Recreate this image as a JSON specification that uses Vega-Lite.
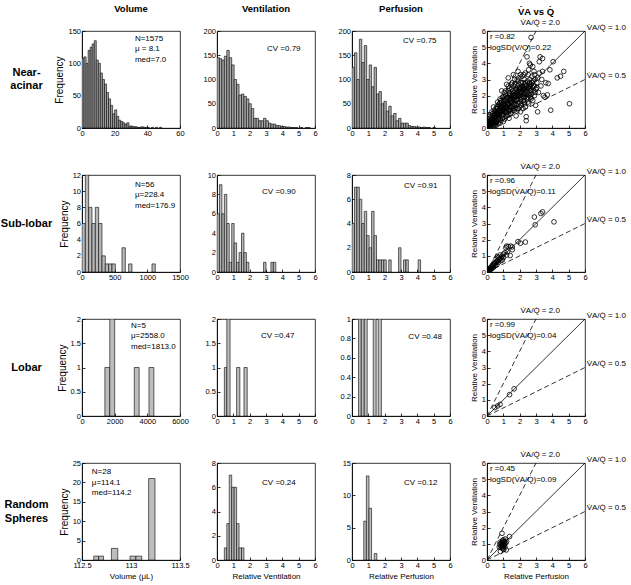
{
"$schema": "https://vega.github.io/schema/vega-lite/v6.json",
"padding": {"left": 0, "top": 3, "right": 4, "bottom": 2},
"config": {
  "font": "Liberation Sans",
  "numberFormat": "~f",
  "view": {"stroke": "black", "strokeWidth": 0.8},
  "axis": {"grid": false, "labelOverlap": false, "tickCount": 20, "domainColor": "black", "domainWidth": 0.8, "tickColor": "black", "tickSize": -3, "tickWidth": 0.8, "labelPadding": 4.5, "labelColor": "black", "labelFontSize": 7.5, "labelFlush": false, "titleColor": "black", "titleFontSize": 8, "titleFontWeight": "normal", "titlePadding": 3},
  "title": {"fontSize": 9.5, "fontWeight": "bold", "offset": 14, "color": "black", "frame": "group"},
  "text": {"color": "black"}
},
"datasets": {
  "v1": [{"a":0,"b":1.25,"n":108},{"a":1.25,"b":2.5,"n":110},{"a":2.5,"b":3.75,"n":100},{"a":3.75,"b":5,"n":120},{"a":5,"b":6.25,"n":125},{"a":6.25,"b":7.5,"n":130},{"a":7.5,"b":8.75,"n":135},{"a":8.75,"b":10,"n":105},{"a":10,"b":11.25,"n":100},{"a":11.25,"b":12.5,"n":85},{"a":12.5,"b":13.75,"n":75},{"a":13.75,"b":15,"n":68},{"a":15,"b":16.25,"n":55},{"a":16.25,"b":17.5,"n":45},{"a":17.5,"b":18.75,"n":35},{"a":18.75,"b":20,"n":22},{"a":20,"b":21.25,"n":28},{"a":21.25,"b":22.5,"n":18},{"a":22.5,"b":23.75,"n":12},{"a":23.75,"b":25,"n":10},{"a":25,"b":26.25,"n":8},{"a":26.25,"b":27.5,"n":6},{"a":27.5,"b":28.75,"n":8},{"a":28.75,"b":30,"n":3},{"a":30,"b":31.25,"n":3},{"a":31.25,"b":32.5,"n":2},{"a":32.5,"b":33.75,"n":2},{"a":33.75,"b":35,"n":1},{"a":35,"b":36.25,"n":1},{"a":36.25,"b":37.5,"n":2},{"a":37.5,"b":38.75,"n":1},{"a":38.75,"b":40,"n":1},{"a":40,"b":41.25,"n":1},{"a":42.5,"b":43.75,"n":1},{"a":45,"b":46.25,"n":1},{"a":47.5,"b":48.75,"n":1}],
  "e1": [{"a":0,"b":0.15,"n":145},{"a":0.15,"b":0.3,"n":143},{"a":0.3,"b":0.45,"n":140},{"a":0.45,"b":0.6,"n":148},{"a":0.6,"b":0.75,"n":160},{"a":0.75,"b":0.9,"n":145},{"a":0.9,"b":1.05,"n":130},{"a":1.05,"b":1.2,"n":100},{"a":1.2,"b":1.35,"n":90},{"a":1.35,"b":1.5,"n":68},{"a":1.5,"b":1.65,"n":70},{"a":1.65,"b":1.8,"n":65},{"a":1.8,"b":1.95,"n":60},{"a":1.95,"b":2.1,"n":50},{"a":2.1,"b":2.25,"n":40},{"a":2.25,"b":2.4,"n":20},{"a":2.4,"b":2.55,"n":20},{"a":2.55,"b":2.7,"n":15},{"a":2.7,"b":2.85,"n":15},{"a":2.85,"b":3.0,"n":20},{"a":3.0,"b":3.15,"n":15},{"a":3.15,"b":3.3,"n":10},{"a":3.3,"b":3.45,"n":8},{"a":3.45,"b":3.6,"n":8},{"a":3.6,"b":3.75,"n":5},{"a":3.75,"b":3.9,"n":5},{"a":3.9,"b":4.05,"n":3},{"a":4.05,"b":4.2,"n":3},{"a":4.2,"b":4.35,"n":2},{"a":4.35,"b":4.5,"n":2},{"a":4.5,"b":4.65,"n":1},{"a":4.65,"b":4.8,"n":1},{"a":4.8,"b":4.95,"n":1},{"a":5.1,"b":5.25,"n":1},{"a":5.4,"b":5.55,"n":1},{"a":5.55,"b":5.7,"n":1}],
  "p1": [{"a":0,"b":0.15,"n":125},{"a":0.15,"b":0.3,"n":155},{"a":0.3,"b":0.45,"n":100},{"a":0.45,"b":0.6,"n":183},{"a":0.6,"b":0.75,"n":135},{"a":0.75,"b":0.9,"n":170},{"a":0.9,"b":1.05,"n":100},{"a":1.05,"b":1.2,"n":130},{"a":1.2,"b":1.35,"n":85},{"a":1.35,"b":1.5,"n":125},{"a":1.5,"b":1.65,"n":70},{"a":1.65,"b":1.8,"n":75},{"a":1.8,"b":1.95,"n":50},{"a":1.95,"b":2.1,"n":55},{"a":2.1,"b":2.25,"n":35},{"a":2.25,"b":2.4,"n":45},{"a":2.4,"b":2.55,"n":25},{"a":2.55,"b":2.7,"n":30},{"a":2.7,"b":2.85,"n":15},{"a":2.85,"b":3.0,"n":20},{"a":3.0,"b":3.15,"n":10},{"a":3.15,"b":3.3,"n":10},{"a":3.3,"b":3.45,"n":10},{"a":3.45,"b":3.6,"n":5},{"a":3.6,"b":3.75,"n":3},{"a":3.75,"b":3.9,"n":3},{"a":3.9,"b":4.05,"n":2},{"a":4.05,"b":4.2,"n":2},{"a":4.2,"b":4.35,"n":1},{"a":4.35,"b":4.5,"n":2},{"a":4.5,"b":4.65,"n":1},{"a":4.65,"b":4.8,"n":1},{"a":4.95,"b":5.1,"n":1}],
  "v2": [{"a":0,"b":51,"n":6},{"a":51,"b":102,"n":12},{"a":102,"b":153,"n":8},{"a":153,"b":204,"n":6},{"a":204,"b":255,"n":8},{"a":255,"b":306,"n":6},{"a":306,"b":357,"n":2},{"a":357,"b":408,"n":1},{"a":408,"b":459,"n":1},{"a":459,"b":510,"n":1},{"a":612,"b":663,"n":3},{"a":714,"b":765,"n":1},{"a":1071,"b":1122,"n":1}],
  "e2": [{"a":0,"b":0.15,"n":6},{"a":0.15,"b":0.3,"n":9},{"a":0.3,"b":0.45,"n":6},{"a":0.45,"b":0.6,"n":8},{"a":0.6,"b":0.75,"n":5},{"a":0.75,"b":0.9,"n":1},{"a":0.9,"b":1.05,"n":5},{"a":1.05,"b":1.2,"n":3},{"a":1.2,"b":1.35,"n":1},{"a":1.35,"b":1.5,"n":2},{"a":1.5,"b":1.65,"n":4},{"a":1.65,"b":1.8,"n":2},{"a":1.8,"b":1.95,"n":1},{"a":2.85,"b":3.0,"n":1},{"a":3.3,"b":3.45,"n":1},{"a":3.45,"b":3.6,"n":1}],
  "p2": [{"a":0,"b":0.15,"n":4},{"a":0.15,"b":0.3,"n":7},{"a":0.3,"b":0.45,"n":7},{"a":0.45,"b":0.6,"n":6},{"a":0.6,"b":0.75,"n":4},{"a":0.75,"b":0.9,"n":5},{"a":0.9,"b":1.05,"n":3},{"a":1.05,"b":1.2,"n":2},{"a":1.2,"b":1.35,"n":5},{"a":1.35,"b":1.5,"n":3},{"a":1.5,"b":1.65,"n":1},{"a":1.65,"b":1.8,"n":1},{"a":1.8,"b":1.95,"n":1},{"a":1.95,"b":2.1,"n":1},{"a":2.25,"b":2.4,"n":1},{"a":2.85,"b":3.0,"n":2},{"a":3.15,"b":3.3,"n":1},{"a":3.3,"b":3.45,"n":1},{"a":4.05,"b":4.2,"n":1}],
  "v3": [{"a":1400,"b":1700,"n":1},{"a":1700,"b":2000,"n":2},{"a":3200,"b":3500,"n":1},{"a":4100,"b":4400,"n":1}],
  "e3": [{"a":0.45,"b":0.6,"n":1},{"a":0.6,"b":0.8,"n":2},{"a":1.2,"b":1.4,"n":1},{"a":1.65,"b":1.85,"n":1}],
  "p3": [{"a":0.4,"b":0.57,"n":1},{"a":0.57,"b":0.75,"n":1},{"a":0.75,"b":0.93,"n":1},{"a":1.3,"b":1.48,"n":1},{"a":1.6,"b":1.8,"n":1}],
  "v4": [{"a":112.62,"b":112.67,"n":1},{"a":112.67,"b":112.72,"n":1},{"a":112.8,"b":112.865,"n":3},{"a":112.99,"b":113.05,"n":1},{"a":113.05,"b":113.11,"n":1},{"a":113.18,"b":113.245,"n":21}],
  "e4": [{"a":0.45,"b":0.6,"n":1},{"a":0.6,"b":0.75,"n":3},{"a":0.75,"b":0.9,"n":7},{"a":0.9,"b":1.05,"n":6},{"a":1.05,"b":1.2,"n":6},{"a":1.2,"b":1.35,"n":3},{"a":1.35,"b":1.5,"n":1},{"a":1.5,"b":1.65,"n":1}],
  "p4": [{"a":0.72,"b":0.88,"n":6},{"a":0.88,"b":1.04,"n":13},{"a":1.04,"b":1.2,"n":8},{"a":1.36,"b":1.52,"n":1}],
  "ln": [{"k":"1.0","x":0,"y":0},{"k":"1.0","x":6,"y":6},{"k":"2.0","x":0,"y":0},{"k":"2.0","x":3,"y":6},{"k":"0.5","x":0,"y":0},{"k":"0.5","x":6,"y":3}],
  "ll": [{"t":"V\u0307A/Q\u0307 = 2.0","x":2.05,"y":6.5},{"t":"V\u0307A/Q\u0307 = 1.0","x":6.1,"y":6.2},{"t":"V\u0307A/Q\u0307 = 0.5","x":6.1,"y":3.22}],
  "s1": [{"x":0.05,"y":0.1},{"x":0.08,"y":0.2},{"x":0.1,"y":0.05},{"x":0.12,"y":0.3},{"x":0.15,"y":0.15},{"x":0.18,"y":0.4},{"x":0.2,"y":0.1},{"x":0.22,"y":0.25},{"x":0.25,"y":0.5},{"x":0.28,"y":0.2},{"x":0.3,"y":0.35},{"x":0.1,"y":0.4},{"x":0.05,"y":0.3},{"x":0.2,"y":0.6},{"x":0.3,"y":0.1},{"x":0.15,"y":0.02},{"x":0.25,"y":0.05},
  {"x":0.35,"y":0.6},{"x":0.38,"y":0.3},{"x":0.4,"y":0.8},{"x":0.42,"y":0.45},{"x":0.45,"y":0.2},{"x":0.48,"y":0.7},{"x":0.5,"y":0.55},{"x":0.52,"y":1.0},{"x":0.55,"y":0.35},{"x":0.58,"y":0.85},{"x":0.6,"y":0.6},{"x":0.35,"y":0.9},{"x":0.45,"y":1.1},{"x":0.5,"y":0.15},{"x":0.6,"y":0.4},{"x":0.4,"y":1.3},{"x":0.55,"y":1.2},
  {"x":0.62,"y":0.9},{"x":0.65,"y":1.2},{"x":0.68,"y":0.5},{"x":0.7,"y":0.75},{"x":0.72,"y":1.05},{"x":0.75,"y":1.4},{"x":0.78,"y":0.65},{"x":0.8,"y":0.95},{"x":0.82,"y":1.2},{"x":0.85,"y":0.45},{"x":0.88,"y":1.6},{"x":0.9,"y":0.8},{"x":0.65,"y":1.6},{"x":0.7,"y":0.3},{"x":0.75,"y":1.0},{"x":0.8,"y":1.8},{"x":0.85,"y":1.3},{"x":0.9,"y":1.1},{"x":0.68,"y":0.85},{"x":0.78,"y":1.55},
  {"x":0.92,"y":1.4},{"x":0.95,"y":0.6},{"x":0.98,"y":1.0},{"x":1.0,"y":1.25},{"x":1.02,"y":1.7},{"x":1.05,"y":0.85},{"x":1.08,"y":1.5},{"x":1.1,"y":1.1},{"x":1.12,"y":2.0},{"x":1.15,"y":0.7},{"x":1.18,"y":1.3},{"x":1.2,"y":1.6},{"x":0.95,"y":1.9},{"x":1.0,"y":0.4},{"x":1.05,"y":2.2},{"x":1.1,"y":1.35},{"x":1.15,"y":1.8},{"x":1.2,"y":0.95},{"x":0.98,"y":1.15},{"x":1.08,"y":0.55},{"x":1.12,"y":1.0},
  {"x":1.22,"y":1.2},{"x":1.25,"y":1.9},{"x":1.28,"y":0.8},{"x":1.3,"y":1.45},{"x":1.32,"y":2.3},{"x":1.35,"y":1.05},{"x":1.38,"y":1.7},{"x":1.4,"y":1.3},{"x":1.42,"y":2.0},{"x":1.45,"y":0.9},{"x":1.48,"y":1.55},{"x":1.5,"y":2.4},{"x":1.25,"y":1.5},{"x":1.3,"y":2.6},{"x":1.35,"y":0.6},{"x":1.4,"y":1.85},{"x":1.45,"y":1.15},{"x":1.5,"y":1.75},{"x":1.28,"y":1.1},{"x":1.38,"y":2.15},{"x":1.48,"y":1.3},{"x":1.3,"y":3.1},
  {"x":1.52,"y":1.0},{"x":1.55,"y":1.6},{"x":1.58,"y":2.1},{"x":1.6,"y":1.35},{"x":1.62,"y":2.6},{"x":1.65,"y":1.85},{"x":1.68,"y":1.1},{"x":1.7,"y":2.3},{"x":1.72,"y":1.5},{"x":1.75,"y":2.0},{"x":1.78,"y":0.75},{"x":1.8,"y":1.7},{"x":1.55,"y":2.8},{"x":1.6,"y":1.9},{"x":1.65,"y":1.45},{"x":1.7,"y":2.7},{"x":1.75,"y":1.25},{"x":1.8,"y":2.4},{"x":1.58,"y":1.2},{"x":1.68,"y":2.05},{"x":1.78,"y":1.95},{"x":1.62,"y":3.3},
  {"x":1.82,"y":1.4},{"x":1.85,"y":2.2},{"x":1.88,"y":1.8},{"x":1.9,"y":2.9},{"x":1.92,"y":1.2},{"x":1.95,"y":2.0},{"x":1.98,"y":2.5},{"x":2.0,"y":1.6},{"x":2.02,"y":2.2},{"x":2.05,"y":1.0},{"x":2.08,"y":2.8},{"x":2.1,"y":1.9},{"x":1.85,"y":2.6},{"x":1.9,"y":1.55},{"x":1.95,"y":3.1},{"x":2.0,"y":2.35},{"x":2.05,"y":1.75},{"x":2.1,"y":2.5},{"x":1.88,"y":2.05},{"x":2.0,"y":1.3},{"x":2.08,"y":2.1},
  {"x":2.12,"y":1.5},{"x":2.15,"y":2.3},{"x":2.18,"y":2.0},{"x":2.2,"y":2.8},{"x":2.22,"y":1.7},{"x":2.25,"y":2.45},{"x":2.28,"y":3.0},{"x":2.3,"y":1.9},{"x":2.32,"y":2.2},{"x":2.35,"y":1.3},{"x":2.38,"y":2.6},{"x":2.4,"y":2.05},{"x":2.15,"y":3.2},{"x":2.2,"y":1.2},{"x":2.25,"y":2.1},{"x":2.3,"y":2.7},{"x":2.35,"y":3.4},{"x":2.4,"y":0.7},{"x":2.18,"y":2.55},{"x":2.28,"y":1.6},
  {"x":2.42,"y":2.4},{"x":2.45,"y":1.8},{"x":2.48,"y":2.9},{"x":2.5,"y":2.2},{"x":2.52,"y":3.3},{"x":2.55,"y":1.5},{"x":2.58,"y":2.6},{"x":2.6,"y":2.0},{"x":2.62,"y":3.0},{"x":2.65,"y":2.3},{"x":2.68,"y":1.9},{"x":2.7,"y":2.7},{"x":2.45,"y":4.4},{"x":2.55,"y":3.6},{"x":2.65,"y":3.9},{"x":2.7,"y":5.6},{"x":2.5,"y":1.6},{"x":2.6,"y":2.45},
  {"x":2.72,"y":2.1},{"x":2.75,"y":3.2},{"x":2.78,"y":2.5},{"x":2.8,"y":1.7},{"x":2.82,"y":2.9},{"x":2.85,"y":2.3},{"x":2.88,"y":3.5},{"x":2.9,"y":2.0},{"x":2.92,"y":2.6},{"x":2.95,"y":3.0},{"x":2.98,"y":1.4},{"x":3.0,"y":2.4},{"x":2.8,"y":3.8},{"x":2.9,"y":3.3},
  {"x":3.05,"y":2.8},{"x":3.1,"y":3.1},{"x":3.15,"y":2.2},{"x":3.2,"y":4.1},{"x":3.25,"y":4.4},{"x":3.3,"y":2.6},{"x":3.2,"y":3.4},{"x":3.1,"y":1.0},{"x":3.35,"y":3.0},{"x":3.45,"y":2.0},{"x":3.4,"y":3.5},
  {"x":3.6,"y":2.8},{"x":3.55,"y":1.9},{"x":3.7,"y":2.05},{"x":3.75,"y":2.75},{"x":3.85,"y":3.6},{"x":4.05,"y":4.1},{"x":4.3,"y":3.1},{"x":4.5,"y":3.2},{"x":4.7,"y":3.5},{"x":5.05,"y":1.5},{"x":3.9,"y":1.1},{"x":3.4,"y":4.3},{"x":2.6,"y":4.0},{"x":1.9,"y":3.5},{"x":1.2,"y":2.7},{"x":0.9,"y":2.3},{"x":2.4,"y":0.45},
  {"x":0.1,"y":0.2},{"x":0.15,"y":0.3},{"x":0.2,"y":0.35},{"x":0.25,"y":0.3},{"x":0.3,"y":0.5},{"x":0.35,"y":0.4},{"x":0.4,"y":0.55},{"x":0.45,"y":0.65},{"x":0.5,"y":0.8},{"x":0.55,"y":0.7},{"x":0.6,"y":0.95},{"x":0.65,"y":0.8},{"x":0.7,"y":1.1},{"x":0.75,"y":0.85},{"x":0.8,"y":1.3},{"x":0.85,"y":1.0},{"x":0.9,"y":1.35},{"x":0.95,"y":1.1},{"x":1.0,"y":1.5},{"x":1.05,"y":1.2},{"x":1.1,"y":1.65},{"x":1.15,"y":1.3},{"x":1.2,"y":1.85},{"x":1.25,"y":1.35},{"x":1.3,"y":1.9},{"x":1.35,"y":1.5},{"x":1.4,"y":2.1},{"x":1.45,"y":1.65},{"x":1.5,"y":1.95},{"x":1.55,"y":1.8},{"x":1.6,"y":2.3},{"x":1.65,"y":2.0},{"x":1.7,"y":1.7},{"x":1.75,"y":2.4},{"x":1.8,"y":2.1},{"x":1.85,"y":1.75},{"x":1.9,"y":2.3},{"x":1.95,"y":2.7},{"x":2.0,"y":2.0},{"x":2.05,"y":2.45},{"x":2.1,"y":2.2},{"x":2.15,"y":2.6},{"x":2.2,"y":2.4},{"x":2.25,"y":1.9},{"x":2.3,"y":2.45},{"x":2.35,"y":2.8},{"x":2.4,"y":2.3},{"x":2.45,"y":2.65},{"x":2.5,"y":2.5},{"x":2.55,"y":2.1},{"x":2.6,"y":2.8},{"x":2.65,"y":2.6},{"x":2.7,"y":2.3},{"x":2.75,"y":2.8},{"x":2.85,"y":2.6},{"x":2.95,"y":2.2},{"x":3.05,"y":2.5},{"x":0.3,"y":0.7},{"x":0.45,"y":0.9},{"x":0.6,"y":1.3},{"x":0.7,"y":1.45},{"x":0.85,"y":1.7},{"x":1.0,"y":1.95},{"x":1.15,"y":2.3},{"x":1.35,"y":2.45},{"x":1.5,"y":2.7},{"x":1.7,"y":3.0},{"x":1.85,"y":3.0},{"x":2.05,"y":3.3},{"x":2.25,"y":3.3},{"x":0.5,"y":0.3},{"x":0.7,"y":0.55},{"x":0.95,"y":0.8},{"x":1.2,"y":0.75},{"x":1.4,"y":1.1},{"x":1.6,"y":1.1},{"x":1.85,"y":1.2},{"x":2.1,"y":1.4},{"x":2.3,"y":1.5},{"x":2.5,"y":1.9},{"x":2.7,"y":1.8},{"x":0.05,"y":0.5},{"x":0.1,"y":0.7},{"x":0.2,"y":0.8},{"x":0.3,"y":1.0},{"x":0.4,"y":0.1},{"x":0.6,"y":0.2},{"x":0.8,"y":0.3}],
  "s2": [{"x":4.1,"y":3.1},{"x":3.4,"y":3.72},{"x":3.3,"y":3.62},{"x":2.9,"y":3.4},{"x":2.95,"y":2.92},{"x":2.35,"y":1.85},{"x":1.9,"y":1.88},{"x":2.05,"y":1.78},{"x":1.55,"y":1.55},{"x":1.45,"y":1.6},{"x":1.3,"y":1.58},{"x":1.2,"y":1.6},{"x":1.15,"y":1.5},{"x":1.55,"y":1.38},{"x":1.42,"y":1.02},{"x":1.25,"y":1.25},{"x":1.1,"y":1.2},{"x":1.0,"y":1.1},{"x":1.2,"y":1.05},{"x":0.9,"y":0.95},{"x":0.85,"y":0.85},{"x":1.0,"y":0.9},{"x":0.8,"y":1.05},{"x":0.75,"y":0.8},{"x":0.7,"y":0.9},{"x":0.65,"y":0.7},{"x":0.6,"y":0.65},{"x":0.55,"y":0.6},{"x":0.5,"y":0.55},{"x":0.45,"y":0.5},{"x":0.6,"y":0.45},{"x":0.4,"y":0.4},{"x":0.35,"y":0.45},{"x":0.3,"y":0.35},{"x":0.3,"y":0.25},{"x":0.25,"y":0.3},{"x":0.2,"y":0.25},{"x":0.2,"y":0.15},{"x":0.15,"y":0.2},{"x":0.1,"y":0.15},{"x":0.1,"y":0.08},{"x":0.05,"y":0.1},{"x":0.05,"y":0.05},{"x":0.08,"y":0.03},{"x":0.12,"y":0.12},{"x":0.18,"y":0.1},{"x":0.25,"y":0.2},{"x":0.4,"y":0.3},{"x":0.5,"y":0.4},{"x":0.7,"y":0.6},{"x":0.85,"y":0.7},{"x":0.95,"y":0.75},{"x":0.65,"y":0.95},{"x":0.55,"y":0.8},{"x":0.02,"y":0.02},{"x":0.35,"y":0.25}],
  "s3": [{"x":0.48,"y":0.52},{"x":0.65,"y":0.62},{"x":0.8,"y":0.72},{"x":1.38,"y":1.32},{"x":1.66,"y":1.68}],
  "s4": [{"x":0.75,"y":0.8},{"x":0.78,"y":0.95},{"x":0.8,"y":1.1},{"x":0.82,"y":0.52},{"x":0.85,"y":0.85},{"x":0.87,"y":1.0},{"x":0.9,"y":0.8},{"x":0.9,"y":1.1},{"x":0.92,"y":1.65},{"x":0.93,"y":0.95},{"x":0.95,"y":1.2},{"x":0.95,"y":0.7},{"x":0.97,"y":0.85},{"x":0.98,"y":1.05},{"x":1.0,"y":0.95},{"x":1.0,"y":1.25},{"x":1.01,"y":0.8},{"x":1.02,"y":1.1},{"x":1.03,"y":0.65},{"x":1.05,"y":0.9},{"x":1.07,"y":1.15},{"x":1.08,"y":1.0},{"x":1.1,"y":0.8},{"x":1.12,"y":1.3},{"x":1.15,"y":1.05},{"x":1.18,"y":0.62},{"x":1.2,"y":1.15},{"x":1.38,"y":1.45}]
},
"columns": 5,
"spacing": {"row": 47, "column": 37},
"bounds": "flush",
"concat": [
  {"width": 37, "height": 97, "view": {"stroke": null}, "data": {"values": [{"t": "Near-\nacinar"}]}, "mark": {"type": "text", "fontSize": 11, "fontWeight": "bold", "lineBreak": "\n", "lineHeight": 13, "align": "center", "baseline": "middle", "dy": -6.5}, "encoding": {"text": {"field": "t"}}},
  {"width": 98, "height": 97, "title": "Volume", "layer": [
    {"data": {"name": "v1"}, "mark": {"type": "bar", "fill": "#a0a0a0", "stroke": "black", "strokeWidth": 0.6, "clip": true},
     "encoding": {"x": {"field": "a", "type": "quantitative", "scale": {"domain": [0, 60], "nice": false}, "axis": {"values": [0, 20, 40, 60], "title": null, "tickCount": 20}}, "x2": {"field": "b"}, "y": {"field": "n", "type": "quantitative", "scale": {"domain": [0, 150], "nice": false}, "axis": {"values": [0, 50, 100, 150], "title": "Frequency", "titleFontSize": 10, "tickCount": 20}}, "y2": {"datum": 0}}},
    {"data": {"values": [{"x": 32.4, "y": 144, "t": "N=1575\nμ = 8.1\nmed=7.0"}]}, "mark": {"type": "text", "align": "left", "baseline": "top", "fontSize": 8, "lineBreak": "\n", "lineHeight": 10.5},
     "encoding": {"x": {"field": "x", "type": "quantitative", "scale": {"domain": [0, 60], "nice": false}}, "y": {"field": "y", "type": "quantitative", "scale": {"domain": [0, 150], "nice": false}}, "text": {"field": "t"}}}
  ]},
  {"width": 98, "height": 97, "title": "Ventilation", "layer": [
    {"data": {"name": "e1"}, "mark": {"type": "bar", "fill": "#a8a8a8", "stroke": "black", "strokeWidth": 0.6, "clip": true},
     "encoding": {"x": {"field": "a", "type": "quantitative", "scale": {"domain": [0, 6], "nice": false}, "axis": {"values": [0, 1, 2, 3, 4, 5, 6], "title": null, "tickCount": 20}}, "x2": {"field": "b"}, "y": {"field": "n", "type": "quantitative", "scale": {"domain": [0, 200], "nice": false}, "axis": {"values": [0, 50, 100, 150, 200], "title": null, "tickCount": 20}}, "y2": {"datum": 0}}},
    {"data": {"values": [{"x": 3.06, "y": 170.7, "t": "CV =0.79"}]}, "mark": {"type": "text", "align": "left", "baseline": "top", "fontSize": 8},
     "encoding": {"x": {"field": "x", "type": "quantitative", "scale": {"domain": [0, 6], "nice": false}}, "y": {"field": "y", "type": "quantitative", "scale": {"domain": [0, 200], "nice": false}}, "text": {"field": "t"}}}
  ]},
  {"width": 98, "height": 97, "title": "Perfusion", "layer": [
    {"data": {"name": "p1"}, "mark": {"type": "bar", "fill": "#a8a8a8", "stroke": "black", "strokeWidth": 0.6, "clip": true},
     "encoding": {"x": {"field": "a", "type": "quantitative", "scale": {"domain": [0, 6], "nice": false}, "axis": {"values": [0, 1, 2, 3, 4, 5, 6], "title": null, "tickCount": 20}}, "x2": {"field": "b"}, "y": {"field": "n", "type": "quantitative", "scale": {"domain": [0, 200], "nice": false}, "axis": {"values": [0, 50, 100, 150, 200], "title": null, "tickCount": 20}}, "y2": {"datum": 0}}},
    {"data": {"values": [{"x": 3.12, "y": 188, "t": "CV =0.75"}]}, "mark": {"type": "text", "align": "left", "baseline": "top", "fontSize": 8},
     "encoding": {"x": {"field": "x", "type": "quantitative", "scale": {"domain": [0, 6], "nice": false}}, "y": {"field": "y", "type": "quantitative", "scale": {"domain": [0, 200], "nice": false}}, "text": {"field": "t"}}}
  ]},
  {"width": 98, "height": 97, "layer": [
    {"data": {"name": "ln"}, "transform": [{"filter": "datum.k === '1.0'"}], "mark": {"type": "line", "color": "black", "strokeWidth": 0.8, "clip": true},
     "encoding": {"x": {"field": "x", "type": "quantitative", "scale": {"domain": [0, 6], "nice": false}, "axis": {"values": [0, 1, 2, 3, 4, 5, 6], "title": null, "tickCount": 20}}, "y": {"field": "y", "type": "quantitative", "scale": {"domain": [0, 6], "nice": false}, "axis": {"values": [0, 1, 2, 3, 4, 5, 6], "title": "Relative Ventilation", "tickCount": 20}}}},
    {"data": {"name": "ln"}, "transform": [{"filter": "datum.k !== '1.0'"}], "mark": {"type": "line", "color": "black", "strokeWidth": 0.8, "strokeDash": [5, 3], "clip": true},
     "encoding": {"x": {"field": "x", "type": "quantitative", "scale": {"domain": [0, 6], "nice": false}}, "y": {"field": "y", "type": "quantitative", "scale": {"domain": [0, 6], "nice": false}}, "detail": {"field": "k"}}},
    {"data": {"name": "s1"}, "mark": {"type": "point", "shape": "circle", "filled": false, "color": "black", "size": 22, "strokeWidth": 0.8, "opacity": 1, "clip": true},
     "encoding": {"x": {"field": "x", "type": "quantitative", "scale": {"domain": [0, 6], "nice": false}}, "y": {"field": "y", "type": "quantitative", "scale": {"domain": [0, 6], "nice": false}}}},
    {"data": {"values": [{"x": 0.18, "y": 5.9, "t": "r =0.82\nlogSD(V/Q)=0.22"}]}, "mark": {"type": "text", "align": "left", "baseline": "top", "fontSize": 8, "lineBreak": "\n", "lineHeight": 11},
     "encoding": {"x": {"field": "x", "type": "quantitative", "scale": {"domain": [0, 6], "nice": false}}, "y": {"field": "y", "type": "quantitative", "scale": {"domain": [0, 6], "nice": false}}, "text": {"field": "t"}}},
    {"data": {"values": [{"x": 3, "y": 7.2, "t": "V\u0307A vs Q\u0307"}]}, "mark": {"type": "text", "align": "center", "baseline": "middle", "fontSize": 9.5, "fontWeight": "bold"},
     "encoding": {"x": {"field": "x", "type": "quantitative", "scale": {"domain": [0, 6], "nice": false}}, "y": {"field": "y", "type": "quantitative", "scale": {"domain": [0, 6], "nice": false}}, "text": {"field": "t"}}},
    {"data": {"name": "ll"}, "mark": {"type": "text", "align": "left", "baseline": "middle", "fontSize": 8},
     "encoding": {"x": {"field": "x", "type": "quantitative", "scale": {"domain": [0, 6], "nice": false}}, "y": {"field": "y", "type": "quantitative", "scale": {"domain": [0, 6], "nice": false}}, "text": {"field": "t"}}}
  ]},

  {"width": 37, "height": 97, "view": {"stroke": null}, "data": {"values": [{"t": "Sub-lobar"}]}, "mark": {"type": "text", "fontSize": 11, "fontWeight": "bold", "align": "center", "baseline": "middle"}, "encoding": {"text": {"field": "t"}}},
  {"width": 98, "height": 97, "layer": [
    {"data": {"name": "v2"}, "mark": {"type": "bar", "fill": "#b8b8b8", "stroke": "black", "strokeWidth": 0.6, "clip": true},
     "encoding": {"x": {"field": "a", "type": "quantitative", "scale": {"domain": [0, 1500], "nice": false}, "axis": {"values": [0, 500, 1000, 1500], "title": null, "tickCount": 20}}, "x2": {"field": "b"}, "y": {"field": "n", "type": "quantitative", "scale": {"domain": [0, 12], "nice": false}, "axis": {"values": [0, 2, 4, 6, 8, 10, 12], "title": "Frequency", "titleFontSize": 10, "tickCount": 20}}, "y2": {"datum": 0}}},
    {"data": {"values": [{"x": 811, "y": 11.26, "t": "N=56\nμ=228.4\nmed=176.9"}]}, "mark": {"type": "text", "align": "left", "baseline": "top", "fontSize": 8, "lineBreak": "\n", "lineHeight": 10.5},
     "encoding": {"x": {"field": "x", "type": "quantitative", "scale": {"domain": [0, 1500], "nice": false}}, "y": {"field": "y", "type": "quantitative", "scale": {"domain": [0, 12], "nice": false}}, "text": {"field": "t"}}}
  ]},
  {"width": 98, "height": 97, "layer": [
    {"data": {"name": "e2"}, "mark": {"type": "bar", "fill": "#b8b8b8", "stroke": "black", "strokeWidth": 0.6, "clip": true},
     "encoding": {"x": {"field": "a", "type": "quantitative", "scale": {"domain": [0, 6], "nice": false}, "axis": {"values": [0, 1, 2, 3, 4, 5, 6], "title": null, "tickCount": 20}}, "x2": {"field": "b"}, "y": {"field": "n", "type": "quantitative", "scale": {"domain": [0, 10], "nice": false}, "axis": {"values": [0, 2, 4, 6, 8, 10], "title": null, "tickCount": 20}}, "y2": {"datum": 0}}},
    {"data": {"values": [{"x": 2.76, "y": 8.68, "t": "CV =0.90"}]}, "mark": {"type": "text", "align": "left", "baseline": "top", "fontSize": 8},
     "encoding": {"x": {"field": "x", "type": "quantitative", "scale": {"domain": [0, 6], "nice": false}}, "y": {"field": "y", "type": "quantitative", "scale": {"domain": [0, 10], "nice": false}}, "text": {"field": "t"}}}
  ]},
  {"width": 98, "height": 97, "layer": [
    {"data": {"name": "p2"}, "mark": {"type": "bar", "fill": "#b8b8b8", "stroke": "black", "strokeWidth": 0.6, "clip": true},
     "encoding": {"x": {"field": "a", "type": "quantitative", "scale": {"domain": [0, 6], "nice": false}, "axis": {"values": [0, 1, 2, 3, 4, 5, 6], "title": null, "tickCount": 20}}, "x2": {"field": "b"}, "y": {"field": "n", "type": "quantitative", "scale": {"domain": [0, 8], "nice": false}, "axis": {"values": [0, 2, 4, 6, 8], "title": null, "tickCount": 20}}, "y2": {"datum": 0}}},
    {"data": {"values": [{"x": 3.18, "y": 7.4, "t": "CV =0.91"}]}, "mark": {"type": "text", "align": "left", "baseline": "top", "fontSize": 8},
     "encoding": {"x": {"field": "x", "type": "quantitative", "scale": {"domain": [0, 6], "nice": false}}, "y": {"field": "y", "type": "quantitative", "scale": {"domain": [0, 8], "nice": false}}, "text": {"field": "t"}}}
  ]},
  {"width": 98, "height": 97, "layer": [
    {"data": {"name": "ln"}, "transform": [{"filter": "datum.k === '1.0'"}], "mark": {"type": "line", "color": "black", "strokeWidth": 0.8, "clip": true},
     "encoding": {"x": {"field": "x", "type": "quantitative", "scale": {"domain": [0, 6], "nice": false}, "axis": {"values": [0, 1, 2, 3, 4, 5, 6], "title": null, "tickCount": 20}}, "y": {"field": "y", "type": "quantitative", "scale": {"domain": [0, 6], "nice": false}, "axis": {"values": [0, 1, 2, 3, 4, 5, 6], "title": "Relative Ventilation", "tickCount": 20}}}},
    {"data": {"name": "ln"}, "transform": [{"filter": "datum.k !== '1.0'"}], "mark": {"type": "line", "color": "black", "strokeWidth": 0.8, "strokeDash": [5, 3], "clip": true},
     "encoding": {"x": {"field": "x", "type": "quantitative", "scale": {"domain": [0, 6], "nice": false}}, "y": {"field": "y", "type": "quantitative", "scale": {"domain": [0, 6], "nice": false}}, "detail": {"field": "k"}}},
    {"data": {"name": "s2"}, "mark": {"type": "point", "shape": "circle", "filled": false, "color": "black", "size": 22, "strokeWidth": 0.8, "opacity": 1, "clip": true},
     "encoding": {"x": {"field": "x", "type": "quantitative", "scale": {"domain": [0, 6], "nice": false}}, "y": {"field": "y", "type": "quantitative", "scale": {"domain": [0, 6], "nice": false}}}},
    {"data": {"values": [{"x": 0.18, "y": 5.9, "t": "r =0.96\nlogSD(V\u0307A/Q\u0307)=0.11"}]}, "mark": {"type": "text", "align": "left", "baseline": "top", "fontSize": 8, "lineBreak": "\n", "lineHeight": 11},
     "encoding": {"x": {"field": "x", "type": "quantitative", "scale": {"domain": [0, 6], "nice": false}}, "y": {"field": "y", "type": "quantitative", "scale": {"domain": [0, 6], "nice": false}}, "text": {"field": "t"}}},
    {"data": {"name": "ll"}, "mark": {"type": "text", "align": "left", "baseline": "middle", "fontSize": 8},
     "encoding": {"x": {"field": "x", "type": "quantitative", "scale": {"domain": [0, 6], "nice": false}}, "y": {"field": "y", "type": "quantitative", "scale": {"domain": [0, 6], "nice": false}}, "text": {"field": "t"}}}
  ]},

  {"width": 37, "height": 97, "view": {"stroke": null}, "data": {"values": [{"t": "Lobar"}]}, "mark": {"type": "text", "fontSize": 11, "fontWeight": "bold", "align": "center", "baseline": "middle"}, "encoding": {"text": {"field": "t"}}},
  {"width": 98, "height": 97, "layer": [
    {"data": {"name": "v3"}, "mark": {"type": "bar", "fill": "#bdbdbd", "stroke": "black", "strokeWidth": 0.6, "clip": true},
     "encoding": {"x": {"field": "a", "type": "quantitative", "scale": {"domain": [0, 6000], "nice": false}, "axis": {"values": [0, 2000, 4000, 6000], "title": null, "tickCount": 20}}, "x2": {"field": "b"}, "y": {"field": "n", "type": "quantitative", "scale": {"domain": [0, 2], "nice": false}, "axis": {"values": [0, 0.5, 1, 1.5, 2], "title": "Frequency", "titleFontSize": 10, "tickCount": 20}}, "y2": {"datum": 0}}},
    {"data": {"values": [{"x": 3000, "y": 1.94, "t": "N=5\nμ=2558.0\nmed=1813.0"}]}, "mark": {"type": "text", "align": "left", "baseline": "top", "fontSize": 8, "lineBreak": "\n", "lineHeight": 10.5},
     "encoding": {"x": {"field": "x", "type": "quantitative", "scale": {"domain": [0, 6000], "nice": false}}, "y": {"field": "y", "type": "quantitative", "scale": {"domain": [0, 2], "nice": false}}, "text": {"field": "t"}}}
  ]},
  {"width": 98, "height": 97, "layer": [
    {"data": {"name": "e3"}, "mark": {"type": "bar", "fill": "#bdbdbd", "stroke": "black", "strokeWidth": 0.6, "clip": true},
     "encoding": {"x": {"field": "a", "type": "quantitative", "scale": {"domain": [0, 6], "nice": false}, "axis": {"values": [0, 1, 2, 3, 4, 5, 6], "title": null, "tickCount": 20}}, "x2": {"field": "b"}, "y": {"field": "n", "type": "quantitative", "scale": {"domain": [0, 2], "nice": false}, "axis": {"values": [0, 0.5, 1, 1.5, 2], "title": null, "tickCount": 20}}, "y2": {"datum": 0}}},
    {"data": {"values": [{"x": 2.69, "y": 1.73, "t": "CV =0.47"}]}, "mark": {"type": "text", "align": "left", "baseline": "top", "fontSize": 8},
     "encoding": {"x": {"field": "x", "type": "quantitative", "scale": {"domain": [0, 6], "nice": false}}, "y": {"field": "y", "type": "quantitative", "scale": {"domain": [0, 2], "nice": false}}, "text": {"field": "t"}}}
  ]},
  {"width": 98, "height": 97, "layer": [
    {"data": {"name": "p3"}, "mark": {"type": "bar", "fill": "#bdbdbd", "stroke": "black", "strokeWidth": 0.6, "clip": true},
     "encoding": {"x": {"field": "a", "type": "quantitative", "scale": {"domain": [0, 6], "nice": false}, "axis": {"values": [0, 1, 2, 3, 4, 5, 6], "title": null, "tickCount": 20}}, "x2": {"field": "b"}, "y": {"field": "n", "type": "quantitative", "scale": {"domain": [0, 1], "nice": false}, "axis": {"values": [0, 0.2, 0.4, 0.6, 0.8, 1], "title": null, "tickCount": 20}}, "y2": {"datum": 0}}},
    {"data": {"values": [{"x": 3.45, "y": 0.86, "t": "CV =0.48"}]}, "mark": {"type": "text", "align": "left", "baseline": "top", "fontSize": 8},
     "encoding": {"x": {"field": "x", "type": "quantitative", "scale": {"domain": [0, 6], "nice": false}}, "y": {"field": "y", "type": "quantitative", "scale": {"domain": [0, 1], "nice": false}}, "text": {"field": "t"}}}
  ]},
  {"width": 98, "height": 97, "layer": [
    {"data": {"name": "ln"}, "transform": [{"filter": "datum.k === '1.0'"}], "mark": {"type": "line", "color": "black", "strokeWidth": 0.8, "clip": true},
     "encoding": {"x": {"field": "x", "type": "quantitative", "scale": {"domain": [0, 6], "nice": false}, "axis": {"values": [0, 1, 2, 3, 4, 5, 6], "title": null, "tickCount": 20}}, "y": {"field": "y", "type": "quantitative", "scale": {"domain": [0, 6], "nice": false}, "axis": {"values": [0, 1, 2, 3, 4, 5, 6], "title": "Relative Ventilation", "tickCount": 20}}}},
    {"data": {"name": "ln"}, "transform": [{"filter": "datum.k !== '1.0'"}], "mark": {"type": "line", "color": "black", "strokeWidth": 0.8, "strokeDash": [5, 3], "clip": true},
     "encoding": {"x": {"field": "x", "type": "quantitative", "scale": {"domain": [0, 6], "nice": false}}, "y": {"field": "y", "type": "quantitative", "scale": {"domain": [0, 6], "nice": false}}, "detail": {"field": "k"}}},
    {"data": {"name": "s3"}, "mark": {"type": "point", "shape": "circle", "filled": false, "color": "black", "size": 22, "strokeWidth": 0.8, "opacity": 1, "clip": true},
     "encoding": {"x": {"field": "x", "type": "quantitative", "scale": {"domain": [0, 6], "nice": false}}, "y": {"field": "y", "type": "quantitative", "scale": {"domain": [0, 6], "nice": false}}}},
    {"data": {"values": [{"x": 0.18, "y": 5.9, "t": "r =0.99\nlogSD(V\u0307A/Q\u0307)=0.04"}]}, "mark": {"type": "text", "align": "left", "baseline": "top", "fontSize": 8, "lineBreak": "\n", "lineHeight": 11},
     "encoding": {"x": {"field": "x", "type": "quantitative", "scale": {"domain": [0, 6], "nice": false}}, "y": {"field": "y", "type": "quantitative", "scale": {"domain": [0, 6], "nice": false}}, "text": {"field": "t"}}},
    {"data": {"name": "ll"}, "mark": {"type": "text", "align": "left", "baseline": "middle", "fontSize": 8},
     "encoding": {"x": {"field": "x", "type": "quantitative", "scale": {"domain": [0, 6], "nice": false}}, "y": {"field": "y", "type": "quantitative", "scale": {"domain": [0, 6], "nice": false}}, "text": {"field": "t"}}}
  ]},

  {"width": 37, "height": 97, "view": {"stroke": null}, "data": {"values": [{"t": "Random\nSpheres"}]}, "mark": {"type": "text", "fontSize": 11, "fontWeight": "bold", "lineBreak": "\n", "lineHeight": 14, "align": "center", "baseline": "middle", "dy": -7}, "encoding": {"text": {"field": "t"}}},
  {"width": 98, "height": 97, "layer": [
    {"data": {"name": "v4"}, "mark": {"type": "bar", "fill": "#bdbdbd", "stroke": "black", "strokeWidth": 0.6, "clip": true},
     "encoding": {"x": {"field": "a", "type": "quantitative", "scale": {"domain": [112.5, 113.5], "nice": false, "zero": false}, "axis": {"values": [112.5, 113, 113.5], "title": "Volume (μL)", "tickCount": 20}}, "x2": {"field": "b"}, "y": {"field": "n", "type": "quantitative", "scale": {"domain": [0, 25], "nice": false}, "axis": {"values": [0, 5, 10, 15, 20, 25], "title": "Frequency", "titleFontSize": 10, "tickCount": 20}}, "y2": {"datum": 0}}},
    {"data": {"values": [{"x": 112.6, "y": 23.7, "t": "N=28\nμ=114.1\nmed=114.2"}]}, "mark": {"type": "text", "align": "left", "baseline": "top", "fontSize": 8, "lineBreak": "\n", "lineHeight": 10.5},
     "encoding": {"x": {"field": "x", "type": "quantitative", "scale": {"domain": [112.5, 113.5], "nice": false, "zero": false}}, "y": {"field": "y", "type": "quantitative", "scale": {"domain": [0, 25], "nice": false}}, "text": {"field": "t"}}}
  ]},
  {"width": 98, "height": 97, "layer": [
    {"data": {"name": "e4"}, "mark": {"type": "bar", "fill": "#bdbdbd", "stroke": "black", "strokeWidth": 0.6, "clip": true},
     "encoding": {"x": {"field": "a", "type": "quantitative", "scale": {"domain": [0, 6], "nice": false}, "axis": {"values": [0, 1, 2, 3, 4, 5, 6], "title": "Relative Ventilation", "tickCount": 20}}, "x2": {"field": "b"}, "y": {"field": "n", "type": "quantitative", "scale": {"domain": [0, 8], "nice": false}, "axis": {"values": [0, 2, 4, 6, 8], "title": null, "tickCount": 20}}, "y2": {"datum": 0}}},
    {"data": {"values": [{"x": 2.76, "y": 6.65, "t": "CV =0.24"}]}, "mark": {"type": "text", "align": "left", "baseline": "top", "fontSize": 8},
     "encoding": {"x": {"field": "x", "type": "quantitative", "scale": {"domain": [0, 6], "nice": false}}, "y": {"field": "y", "type": "quantitative", "scale": {"domain": [0, 8], "nice": false}}, "text": {"field": "t"}}}
  ]},
  {"width": 98, "height": 97, "layer": [
    {"data": {"name": "p4"}, "mark": {"type": "bar", "fill": "#bdbdbd", "stroke": "black", "strokeWidth": 0.6, "clip": true},
     "encoding": {"x": {"field": "a", "type": "quantitative", "scale": {"domain": [0, 6], "nice": false}, "axis": {"values": [0, 1, 2, 3, 4, 5, 6], "title": "Relative Perfusion", "tickCount": 20}}, "x2": {"field": "b"}, "y": {"field": "n", "type": "quantitative", "scale": {"domain": [0, 15], "nice": false}, "axis": {"values": [0, 5, 10, 15], "title": null, "tickCount": 20}}, "y2": {"datum": 0}}},
    {"data": {"values": [{"x": 3.18, "y": 12.5, "t": "CV =0.12"}]}, "mark": {"type": "text", "align": "left", "baseline": "top", "fontSize": 8},
     "encoding": {"x": {"field": "x", "type": "quantitative", "scale": {"domain": [0, 6], "nice": false}}, "y": {"field": "y", "type": "quantitative", "scale": {"domain": [0, 15], "nice": false}}, "text": {"field": "t"}}}
  ]},
  {"width": 98, "height": 97, "layer": [
    {"data": {"name": "ln"}, "transform": [{"filter": "datum.k === '1.0'"}], "mark": {"type": "line", "color": "black", "strokeWidth": 0.8, "clip": true},
     "encoding": {"x": {"field": "x", "type": "quantitative", "scale": {"domain": [0, 6], "nice": false}, "axis": {"values": [0, 1, 2, 3, 4, 5, 6], "title": "Relative Perfusion", "tickCount": 20}}, "y": {"field": "y", "type": "quantitative", "scale": {"domain": [0, 6], "nice": false}, "axis": {"values": [0, 1, 2, 3, 4, 5, 6], "title": "Relative Ventilation", "tickCount": 20}}}},
    {"data": {"name": "ln"}, "transform": [{"filter": "datum.k !== '1.0'"}], "mark": {"type": "line", "color": "black", "strokeWidth": 0.8, "strokeDash": [5, 3], "clip": true},
     "encoding": {"x": {"field": "x", "type": "quantitative", "scale": {"domain": [0, 6], "nice": false}}, "y": {"field": "y", "type": "quantitative", "scale": {"domain": [0, 6], "nice": false}}, "detail": {"field": "k"}}},
    {"data": {"name": "s4"}, "mark": {"type": "point", "shape": "circle", "filled": false, "color": "black", "size": 22, "strokeWidth": 0.8, "opacity": 1, "clip": true},
     "encoding": {"x": {"field": "x", "type": "quantitative", "scale": {"domain": [0, 6], "nice": false}}, "y": {"field": "y", "type": "quantitative", "scale": {"domain": [0, 6], "nice": false}}}},
    {"data": {"values": [{"x": 0.18, "y": 5.9, "t": "r =0.45\nlogSD(V\u0307A/Q\u0307)=0.09"}]}, "mark": {"type": "text", "align": "left", "baseline": "top", "fontSize": 8, "lineBreak": "\n", "lineHeight": 11},
     "encoding": {"x": {"field": "x", "type": "quantitative", "scale": {"domain": [0, 6], "nice": false}}, "y": {"field": "y", "type": "quantitative", "scale": {"domain": [0, 6], "nice": false}}, "text": {"field": "t"}}},
    {"data": {"name": "ll"}, "mark": {"type": "text", "align": "left", "baseline": "middle", "fontSize": 8},
     "encoding": {"x": {"field": "x", "type": "quantitative", "scale": {"domain": [0, 6], "nice": false}}, "y": {"field": "y", "type": "quantitative", "scale": {"domain": [0, 6], "nice": false}}, "text": {"field": "t"}}}
  ]}
]
}
